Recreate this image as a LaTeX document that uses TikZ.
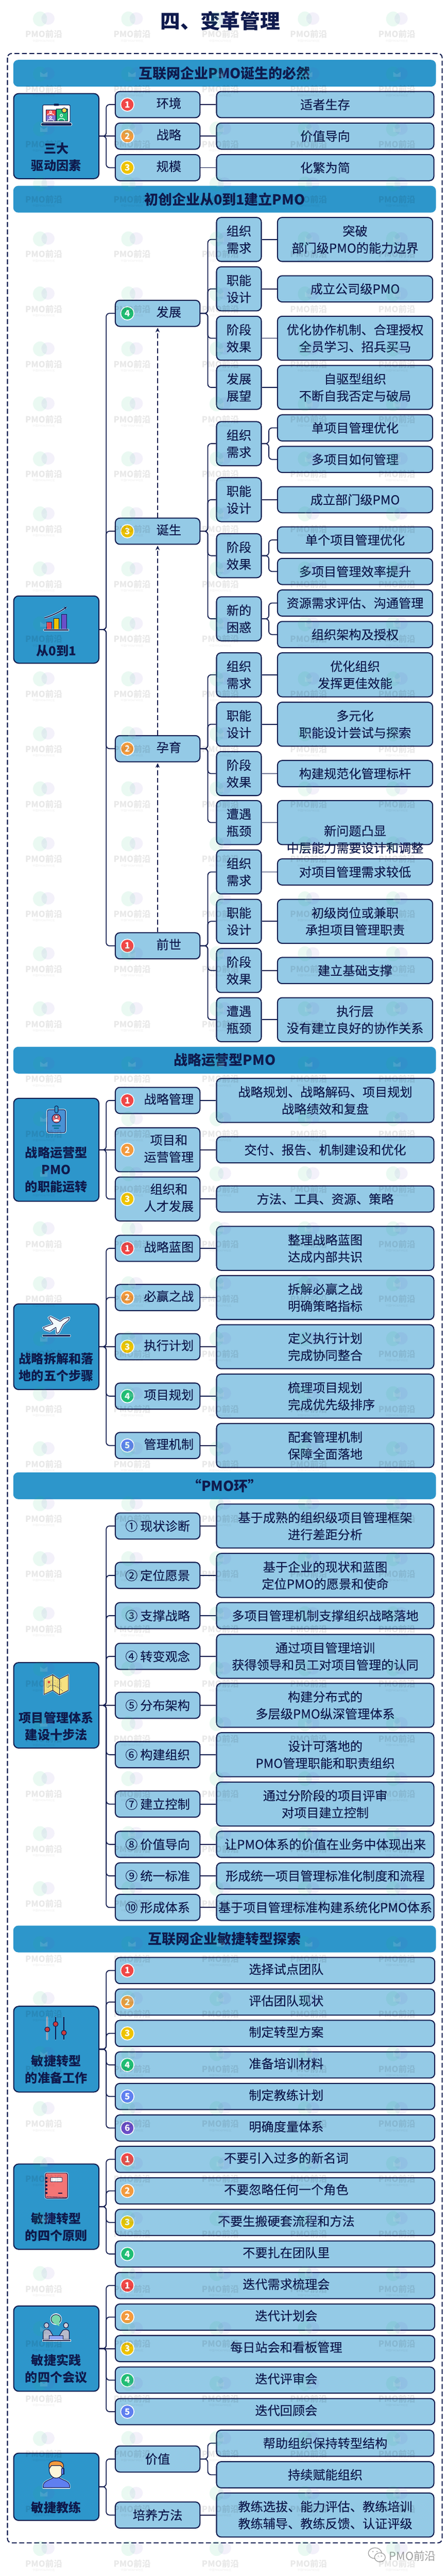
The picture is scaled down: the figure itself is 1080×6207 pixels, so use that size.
\documentclass[tikz,border=0pt]{standalone}
\usepackage{fontspec}
\usetikzlibrary{arrows.meta,calc}
\setmainfont{Noto Sans CJK SC}
\newfontfamily\medf[FakeBold=0.25]{Noto Sans CJK SC}
\definecolor{nav}{HTML}{0F1A4D}
\definecolor{lb}{HTML}{94CAE6}
\definecolor{hb}{HTML}{2D96CB}
\definecolor{cr}{HTML}{F04747}
\definecolor{co}{HTML}{F29A3E}
\definecolor{cy}{HTML}{EEC300}
\definecolor{cg}{HTML}{20BD74}
\definecolor{cb}{HTML}{5F7FF0}
\definecolor{cp}{HTML}{6A4FC8}
\newcommand\fsA{\fontsize{30}{41}\selectfont\medf}
\newcommand\fsH{\fontsize{33.5}{41}\selectfont\bfseries}
\newcommand\fsL{\fontsize{30}{41}\selectfont\bfseries}
\newcommand\off[1]{\hspace*{54pt}\begin{tabular}{@{}c@{}}#1\end{tabular}}
\tikzset{
 box/.style={draw=nav,line width=2.5,fill=lb,rounded corners=11,inner sep=0,align=center,font=\fsA,text=nav},
 sh/.style={minimum height=63},
 ta/.style={minimum height=106},
 hdr/.style={fill=hb,rounded corners=12,inner sep=0,minimum width=1019,minimum height=64.5,font=\fsH,text=nav},
 lbox/.style={draw=nav,line width=2.5,fill=hb,rounded corners=12,inner sep=0,minimum width=205.5},
 ltext/.style={inner sep=0,align=center,font=\fsL,text=nav},
 badge/.style={circle,draw=white,line width=2,minimum size=32,inner sep=0,text=white,font=\fontsize{21}{21}\selectfont\bfseries},
 conn/.style={draw=nav,line width=2.2},
 dasharrow/.style={draw=nav,line width=2,dash pattern=on 12 off 6,-{Stealth[length=11,width=10]},shorten >=2},
 ic/.style={draw=nav,line width=1.4},
 halo/.style={draw=white,line width=4,line join=round},
}
\newcommand\nM[4]{\node[box,#3,minimum width=204] (#1) at (380,#2) {#4};}
\newcommand\nA[4]{\node[box,#3,minimum width=524] (#1) at (784,#2) {#4};}
\newcommand\nN[3]{\node[box,ta,minimum width=108] (#1) at (576,#2) {#3};}
\newcommand\nB[4]{\node[box,#3,minimum width=374] (#1) at (856,#2) {#4};}
\newcommand\nW[3]{\node[box,sh,minimum width=770] (#1) at (663,#2) {\off{#3}};}
\newcommand\nL[3]{\node[lbox,minimum height=#3] (#1) at (135.7,#2) {};}
\newcommand\tL[3]{\node[ltext] (#1) at (135.7,#2) {#3};}
\newcommand\nH[3]{\node[hdr] (#1) at (541.5,#2) {#3};}
\newcommand\bdg[4]{\node[badge,fill=#2] (#1) at (307,#3) {#4};}
\newcommand\lnk[2]{\draw[conn] (#1.east) -- (#2.west);}
\newcommand\brn[3]{\draw[conn,rounded corners=8] (#1.east) -- (#1.east -| #2) -- (#3.west -| #2) -- (#3.west);}
\begin{document}
\begin{tikzpicture}[x=1pt,y=-1pt]
\useasboundingbox (0,0) rectangle (1080,6207);
\fill[white] (0,0) rectangle (1080,6207);
\coordinate (bus1) at (256,0);
\coordinate (bus2) at (501,0);
\coordinate (bus3) at (648,0);
\node[inner sep=0,text=nav,font=\fontsize{48}{48}\selectfont\bfseries] (title) at (531,50) {四、变革管理};
\draw[draw=nav,line width=2.5,dash pattern=on 12 off 6,rounded corners=10] (18,129) rectangle (1066,6127);
% ---------- section 1
\nH{h1}{176.5}{互联网企业PMO诞生的必然}
\nL{l1}{328}{205}\tL{l1t}{378}{三大\\驱动因素}
\nM{a1}{252}{sh}{\off{环境}}\bdg{a1b}{cr}{252}{1}
\nM{a2}{328}{sh}{\off{战略}}\bdg{a2b}{co}{328}{2}
\nM{a3}{404}{sh}{\off{规模}}\bdg{a3b}{cy}{404}{3}
\nA{ar1}{252}{sh}{适者生存}
\nA{ar2}{328}{sh}{价值导向}
\nA{ar3}{404}{sh}{化繁为简}
\lnk{l1}{a2}\brn{l1}{bus1}{a1}\brn{l1}{bus1}{a3}
\lnk{a1}{ar1}\lnk{a2}{ar2}\lnk{a3}{ar3}
% ---------- section 2
\nH{h2}{480}{初创企业从0到1建立PMO}
\nL{l2}{1517}{162}\tL{l2t}{1568}{从0到1}
\nM{g4}{755}{sh}{\off{发展}}\bdg{g4b}{cg}{755}{4}
\nM{g3}{1280}{sh}{\off{诞生}}\bdg{g3b}{cy}{1280}{3}
\nM{g2}{1804}{sh}{\off{孕育}}\bdg{g2b}{co}{1804}{2}
\nM{g1}{2279}{sh}{\off{前世}}\bdg{g1b}{cr}{2279}{1}
\brn{l2}{bus1}{g4}\brn{l2}{bus1}{g3}\brn{l2}{bus1}{g2}\brn{l2}{bus1}{g1}
\draw[dasharrow] (g1.north) -- (g2.south);
\draw[dasharrow] (g2.north) -- (g3.south);
\draw[dasharrow] (g3.north) -- (g4.south);
% develop
\nN{n41}{577}{组织\\需求}\nB{b41}{577}{ta}{突破\\部门级PMO的能力边界}
\nN{n42}{696}{职能\\设计}\nB{b42}{696}{sh}{成立公司级PMO}
\nN{n43}{815}{阶段\\效果}\nB{b43}{815}{ta}{优化协作机制、合理授权\\全员学习、招兵买马}
\nN{n44}{933.5}{发展\\展望}\nB{b44}{933.5}{ta}{自驱型组织\\不断自我否定与破局}
\brn{g4}{bus2}{n41}\brn{g4}{bus2}{n42}\brn{g4}{bus2}{n43}\brn{g4}{bus2}{n44}
\lnk{n41}{b41}\lnk{n42}{b42}\lnk{n43}{b43}\lnk{n44}{b44}
% born
\nN{n31}{1069}{组织\\需求}
\nB{b31a}{1031}{sh}{单项目管理优化}\nB{b31b}{1107}{sh}{多项目如何管理}
\nN{n32}{1204}{职能\\设计}\nB{b32}{1204}{sh}{成立部门级PMO}
\nN{n33}{1339}{阶段\\效果}
\nB{b33a}{1301}{sh}{单个项目管理优化}\nB{b33b}{1377}{sh}{多项目管理效率提升}
\nN{n34}{1491}{新的\\困惑}
\nB{b34a}{1453}{sh}{资源需求评估、沟通管理}\nB{b34b}{1529}{sh}{组织架构及授权}
\brn{g3}{bus2}{n31}\brn{g3}{bus2}{n32}\brn{g3}{bus2}{n33}\brn{g3}{bus2}{n34}
\brn{n31}{bus3}{b31a}\brn{n31}{bus3}{b31b}\lnk{n32}{b32}
\brn{n33}{bus3}{b33a}\brn{n33}{bus3}{b33b}
\brn{n34}{bus3}{b34a}\brn{n34}{bus3}{b34b}
% pregnant
\nN{n21}{1626}{组织\\需求}\nB{b21}{1626}{ta}{优化组织\\发挥更佳效能}
\nN{n22}{1745}{职能\\设计}\nB{b22}{1745}{ta}{多元化\\职能设计尝试与探索}
\nN{n23}{1864}{阶段\\效果}\nB{b23}{1864}{sh}{构建规范化管理标杆}
\nN{n24}{1982}{遭遇\\瓶颈}\nB{b24}{1982}{ta}{}
\node[inner sep=0,align=center,font=\fsA,text=nav] (b24t) at (856,2022.5) {新问题凸显\\中层能力需要设计和调整};
\brn{g2}{bus2}{n21}\brn{g2}{bus2}{n22}\brn{g2}{bus2}{n23}\brn{g2}{bus2}{n24}
\lnk{n21}{b21}\lnk{n22}{b22}\lnk{n23}{b23}\lnk{n24}{b24}
% previous
\nN{n11}{2101}{组织\\需求}\nB{b11}{2101}{sh}{对项目管理需求较低}
\nN{n12}{2220}{职能\\设计}\nB{b12}{2220}{ta}{初级岗位或兼职\\承担项目管理职责}
\nN{n13}{2338.5}{阶段\\效果}\nB{b13}{2338.5}{sh}{建立基础支撑}
\nN{n14}{2457}{遭遇\\瓶颈}\nB{b14}{2457}{ta}{执行层\\没有建立良好的协作关系}
\brn{g1}{bus2}{n11}\brn{g1}{bus2}{n12}\brn{g1}{bus2}{n13}\brn{g1}{bus2}{n14}
\lnk{n11}{b11}\lnk{n12}{b12}\lnk{n13}{b13}\lnk{n14}{b14}
% ---------- section 3
\nH{h3}{2554.5}{战略运营型PMO}
\nL{l3}{2770.5}{248}\tL{l3t}{2818}{战略运营型\\PMO\\的职能运转}
\nM{c1}{2651.5}{sh}{\off{战略管理}}\bdg{c1b}{cr}{2651.5}{1}
\nM{c2}{2770.5}{ta}{\off{项目和\\运营管理}}\bdg{c2b}{co}{2770.5}{2}
\nM{c3}{2889}{ta}{\off{组织和\\人才发展}}\bdg{c3b}{cy}{2889}{3}
\nA{cr1}{2651.5}{ta}{战略规划、战略解码、项目规划\\战略绩效和复盘}
\nA{cr2}{2770.5}{sh}{交付、报告、机制建设和优化}
\nA{cr3}{2889}{sh}{方法、工具、资源、策略}
\lnk{l3}{c2}\brn{l3}{bus1}{c1}\brn{l3}{bus1}{c3}
\lnk{c1}{cr1}\lnk{c2}{cr2}\lnk{c3}{cr3}
\nL{l4}{3245}{206.5}\tL{l4t}{3294}{战略拆解和落\\地的五个步骤}
\nM{d1}{3008}{sh}{\off{战略蓝图}}\bdg{d1b}{cr}{3008}{1}
\nM{d2}{3126.5}{sh}{\off{必赢之战}}\bdg{d2b}{co}{3126.5}{2}
\nM{d3}{3245}{sh}{\off{执行计划}}\bdg{d3b}{cy}{3245}{3}
\nM{d4}{3364}{sh}{\off{项目规划}}\bdg{d4b}{cg}{3364}{4}
\nM{d5}{3483}{sh}{\off{管理机制}}\bdg{d5b}{cb}{3483}{5}
\nA{dr1}{3008}{ta}{整理战略蓝图\\达成内部共识}
\nA{dr2}{3126.5}{ta}{拆解必赢之战\\明确策略指标}
\nA{dr3}{3245}{ta}{定义执行计划\\完成协同整合}
\nA{dr4}{3364}{ta}{梳理项目规划\\\makebox[180pt][l]{完成优先级排序}}
\nA{dr5}{3483}{ta}{配套管理机制\\保障全面落地}
\lnk{l4}{d3}\brn{l4}{bus1}{d1}\brn{l4}{bus1}{d2}\brn{l4}{bus1}{d4}\brn{l4}{bus1}{d5}
\lnk{d1}{dr1}\lnk{d2}{dr2}\lnk{d3}{dr3}\lnk{d4}{dr4}\lnk{d5}{dr5}
% ---------- section PMO ring
\nH{h4}{3580}{\hspace*{-14pt}“PMO环”\hspace*{-14pt}}
\nL{l5}{4109}{206}\tL{l5t}{4159}{项目管理体系\\建设十步法}
\nM{e1}{3677}{sh}{①\hspace{6pt}现状诊断}
\nM{e2}{3796}{sh}{②\hspace{6pt}定位愿景}
\nM{e3}{3893}{sh}{③\hspace{6pt}支撑战略}
\nM{e4}{3991}{sh}{④\hspace{6pt}转变观念}
\nM{e5}{4109}{sh}{⑤\hspace{6pt}分布架构}
\nM{e6}{4228}{sh}{⑥\hspace{6pt}构建组织}
\nM{e7}{4347}{sh}{⑦\hspace{6pt}建立控制}
\nM{e8}{4444}{sh}{⑧\hspace{6pt}价值导向}
\nM{e9}{4520}{sh}{⑨\hspace{6pt}统一标准}
\nM{e10}{4596}{sh}{⑩\hspace{6pt}形成体系}
\nA{er1}{3677}{ta}{基于成熟的组织级项目管理框架\\进行差距分析}
\nA{er2}{3796}{ta}{基于企业的现状和蓝图\\定位PMO的愿景和使命}
\nA{er3}{3893}{sh}{多项目管理机制支撑组织战略落地}
\nA{er4}{3991}{ta}{通过项目管理培训\\获得领导和员工对项目管理的认同}
\nA{er5}{4109}{ta}{构建分布式的\\多层级PMO纵深管理体系}
\nA{er6}{4228}{ta}{设计可落地的\\PMO管理职能和职责组织}
\nA{er7}{4347}{ta}{通过分阶段的项目评审\\对项目建立控制}
\nA{er8}{4444}{sh}{让PMO体系的价值在业务中体现出来}
\nA{er9}{4520}{sh}{形成统一项目管理标准化制度和流程}
\nA{er10}{4596}{sh}{基于项目管理标准构建系统化PMO体系}
\lnk{l5}{e5}
\brn{l5}{bus1}{e1}\brn{l5}{bus1}{e2}\brn{l5}{bus1}{e3}\brn{l5}{bus1}{e4}
\brn{l5}{bus1}{e6}\brn{l5}{bus1}{e7}\brn{l5}{bus1}{e8}\brn{l5}{bus1}{e9}\brn{l5}{bus1}{e10}
\lnk{e1}{er1}\lnk{e2}{er2}\lnk{e3}{er3}\lnk{e4}{er4}\lnk{e5}{er5}
\lnk{e6}{er6}\lnk{e7}{er7}\lnk{e8}{er8}\lnk{e9}{er9}\lnk{e10}{er10}
% ---------- section agile
\nH{h5}{4672}{互联网企业敏捷转型探索}
\nL{l6}{4937.5}{206.5}\tL{l6t}{4987}{敏捷转型\\的准备工作}
\nW{f1}{4748}{选择试点团队}\bdg{f1b}{cr}{4748}{1}
\nW{f2}{4824}{评估团队现状}\bdg{f2b}{co}{4824}{2}
\nW{f3}{4899.5}{制定转型方案}\bdg{f3b}{cy}{4899.5}{3}
\nW{f4}{4975.5}{准备培训材料}\bdg{f4b}{cg}{4975.5}{4}
\nW{f5}{5051.5}{制定教练计划}\bdg{f5b}{cb}{5051.5}{5}
\nW{f6}{5127.5}{明确度量体系}\bdg{f6b}{cp}{5127.5}{6}
\brn{l6}{bus1}{f1}\brn{l6}{bus1}{f2}\brn{l6}{bus1}{f3}\brn{l6}{bus1}{f4}\brn{l6}{bus1}{f5}\brn{l6}{bus1}{f6}
\nL{l7}{5317}{205.5}\tL{l7t}{5366}{敏捷转型\\的四个原则}
\nW{p1}{5203}{不要引入过多的新名词}\bdg{p1b}{cr}{5203}{1}
\nW{p2}{5279}{不要忽略任何一个角色}\bdg{p2b}{co}{5279}{2}
\nW{p3}{5355}{不要生搬硬套流程和方法}\bdg{p3b}{cy}{5355}{3}
\nW{p4}{5431}{不要扎在团队里}\bdg{p4b}{cg}{5431}{4}
\brn{l7}{bus1}{p1}\brn{l7}{bus1}{p2}\brn{l7}{bus1}{p3}\brn{l7}{bus1}{p4}
\nL{l8}{5659}{205.5}\tL{l8t}{5708}{敏捷实践\\的四个会议}
\nW{q1}{5507}{迭代需求梳理会}\bdg{q1b}{cr}{5507}{1}
\nW{q2}{5583}{迭代计划会}\bdg{q2b}{co}{5583}{2}
\nW{q3}{5659}{每日站会和看板管理}\bdg{q3b}{cy}{5659}{3}
\nW{q4}{5735}{迭代评审会}\bdg{q4b}{cg}{5735}{4}
\nW{q5}{5811}{迭代回顾会}\bdg{q5b}{cb}{5811}{5}
\lnk{l8}{q3}\brn{l8}{bus1}{q1}\brn{l8}{bus1}{q2}\brn{l8}{bus1}{q4}\brn{l8}{bus1}{q5}
\nL{l9}{5992}{162}\tL{l9t}{6042}{敏捷教练}
\nM{r1}{5925}{sh}{价值}
\nM{r2}{6060}{sh}{培养方法}
\nA{rr1}{5887}{sh}{帮助组织保持转型结构}
\nA{rr2}{5963}{sh}{持续赋能组织}
\nA{rr3}{6060}{ta}{教练选拔、能力评估、教练培训\\教练辅导、教练反馈、认证评级}
\brn{l9}{bus1}{r1}\brn{l9}{bus1}{r2}
\brn{r1}{bus2}{rr1}\brn{r1}{bus2}{rr2}\lnk{r2}{rr3}
% ---------- icons
% conference laptop
\draw[ic,fill=white,rounded corners=2] (103,253) rectangle (169,295);
\fill[cr] (111,265) rectangle (135,277.5);
\fill[cp!80!white] (111,278.5) rectangle (135,291);
\fill[cg] (136,263) rectangle (163,291);
\draw[ic] (111,265) rectangle (135,291) (136,263) rectangle (163,291);
\draw[white,line width=1.5] (122,270) circle (2.5) (114,277) arc (180:360:8 and 3);
\draw[white,line width=1.5] (122,283) circle (2.5) (114,291) arc (180:360:8 and 3);
\draw[white,line width=1.5] (148,278) circle (3) (140,291) arc (180:360:8 and 6);
\draw[ic,fill=cy!70!white] (155,266) circle (6);
\fill[nav,rounded corners=1] (130,250) rectangle (142,255);
\draw[white,line width=1,fill=nav,rounded corners=2] (99,296) rectangle (173,303);
% chart
\draw[ic,fill=cr] (112,1499) rectangle (125,1516);
\draw[ic,fill=cy] (129.5,1490) rectangle (142,1516);
\draw[ic,fill=cp] (148,1480) rectangle (161,1516);
\draw[white,line width=1,fill=nav,rounded corners=1] (105,1516) rectangle (166,1520);
\draw[halo] (107,1489) .. controls (130,1482) and (148,1472) .. (160,1463);
\draw[nav,line width=2.2,-{Stealth[length=7,width=7]}] (107,1489) .. controls (130,1482) and (148,1472) .. (161,1462);
% id badge
\draw[white,line width=4,rounded corners=4] (114,2674) rectangle (158,2729);
\draw[ic,fill=cyan!60!blue!75!white,rounded corners=4] (114,2674) rectangle (158,2729);
\draw[ic,fill=hb,rounded corners=3] (132,2665) rectangle (140,2681);
\draw[ic,fill=cr!80!white] (136,2695) circle (10.5);
\draw[white,fill=white] (129,2702) arc (180:360:7 and 5);
\draw[nav,line width=1,fill=white!80!cr] (136,2691) circle (4);
\fill[nav!60!cyan] (126,2711) rectangle (146,2714) (130,2717) rectangle (142,2720);
% plane
\draw[halo] (167,3174)--(166,3180)--(152,3192)--(142,3211)--(136,3213)--(135,3198)--(120,3208)--(108,3204)--(104,3199)--(128,3190)--(117,3175)--(122,3172)--(145,3184)--(155,3177)--cycle;
\draw[ic,fill=white!90!lb,rounded corners=1] (167,3174)--(166,3180)--(152,3192)--(142,3211)--(136,3213)--(135,3198)--(120,3208)--(108,3204)--(104,3199)--(128,3190)--(117,3175)--(122,3172)--(145,3184)--(155,3177)--cycle;
\draw[white,line width=1,fill=nav,rounded corners=1] (102,3216) rectangle (170,3221);
% map
\draw[white,line width=3,line join=round] (106,4045)--(127,4035)--(143,4046)--(165,4035)--(165,4073)--(143,4084)--(127,4073)--(106,4083)--cycle;
\draw[ic,fill=cy!50!white,line join=round] (106,4045)--(127,4035)--(143,4046)--(165,4035)--(165,4073)--(143,4084)--(127,4073)--(106,4083)--cycle;
\draw[nav,line width=.8] (127,4035)--(127,4073) (143,4046)--(143,4084);
\draw[nav,line width=1,dash pattern=on 2 off 2] (115,4066) .. controls (125,4055) and (135,4062) .. (152,4075);
\fill[cr] (118,4053) circle (3);
% sliders
\foreach \xx/\yy in {114/4890,134/4877,154/4898}{
 \draw[white,line width=3.4,line cap=round] (\xx,4860) -- (\xx,4914);
 \draw[nav,line width=1.6,line cap=round] (\xx,4860) -- (\xx,4914);
 \draw[ic,fill=cr!85!black] (\xx,\yy) circle (6);
}
% notebook
\draw[white,line width=3.5,rounded corners=4] (109,5236) rectangle (163,5297);
\draw[ic,fill=cr!75!white,rounded corners=4] (109,5236) rectangle (163,5297);
\draw[nav,line width=1] (112,5293) -- (160,5295);
\draw[nav,line width=1,fill=white,rounded corners=1] (122,5247) rectangle (150,5257);
\foreach \yy in {5248,5257,5266,5275,5284}{\fill[nav] (112,\yy) circle (2.6);}
\fill[nav] (140,5283) rectangle (150,5286);
% meeting
\draw[white,line width=3,fill=white] (135,5588) circle (12.5);
\draw[ic,fill=cg!60!white] (135,5588) ellipse (12 and 11);
\fill[cg!60!white] (128,5597) -- (143,5605) -- (143,5594) -- cycle;
\draw[ic,fill=white!80!nav] (112,5603) ellipse (6 and 6.5);
\draw[ic,fill=white!80!nav] (159,5603) ellipse (6 and 6.5);
\draw[ic,fill=white!70!nav] (104,5637) -- (104,5620) .. controls (104,5612) and (118,5610) .. (122,5618) -- (128,5628) -- (128,5637) -- cycle;
\draw[ic,fill=white!70!nav] (167,5637) -- (167,5620) .. controls (167,5612) and (153,5610) .. (149,5618) -- (143,5628) -- (143,5637) -- cycle;
\draw[ic,fill=cb!70!white] (119,5628) rectangle (152,5638);
\draw[white,line width=.8,fill=nav] (102,5637) rectangle (171,5641);
% coach
\draw[white,line width=3.2,line join=round] (104,5995) -- (104,5990) .. controls (104,5978) and (120,5976) .. (128,5970) -- (143,5970) .. controls (150,5976) and (168,5978) .. (168,5990) -- (168,5995) -- cycle;
\draw[ic,fill=cb] (104,5994) -- (104,5990) .. controls (104,5978) and (120,5976) .. (128,5970) -- (143,5970) .. controls (150,5976) and (168,5978) .. (168,5990) -- (168,5994) -- cycle;
\draw[ic,fill=white!85!cy] (135.5,5951) ellipse (17 and 20);
\draw[ic,fill=co] (119,5948) .. controls (113,5930) and (130,5929) .. (138,5930) .. controls (150,5930) and (156,5938) .. (152,5948) -- (146,5941) -- (124,5941) -- cycle;
\draw[ic,fill=cb] (148,5948) rectangle (154,5962);
% ---------- corner mark
\begin{scope}[opacity=.85]
\draw[gray,line width=1.4,fill=white] (904,6152) ellipse (16 and 13);
\fill[gray] (899,6148) circle (1.5) (909,6148) circle (1.5);
\draw[gray,line width=1.4,fill=white] (916,6162) ellipse (13 and 11);
\fill[gray] (912,6159) circle (1.3) (920,6159) circle (1.3);
\node[inner sep=0,text=gray!90,font=\fontsize{27}{27}\selectfont] (wx) at (994.5,6159) {PMO前沿};
\end{scope}
% ---------- watermark
\foreach \kk in {0,...,46}{
 \pgfmathsetmacro\yw{82.7+132.5*\kk}
 \foreach \xw in {105.6,318.4,531.2,744,956.8}{
  \fill[cg,opacity=.09] (\xw-9,\yw-37) ellipse (17 and 18);
  \fill[cp,opacity=.08] (\xw+10,\yw-38) ellipse (16 and 15);
  \fill[white,opacity=.12] (\xw-9,\yw-42) -- (\xw,\yw-36) -- (\xw+9,\yw-42) -- (\xw+9,\yw-30) -- (\xw-9,\yw-30) -- cycle;
  \node[inner sep=0,opacity=.09,text=black,font=\fontsize{20.5}{20.5}\selectfont\bfseries] (wa) at (\xw,\yw) {PMO前沿};
  \node[inner sep=0,opacity=.07,text=black,font=\fontsize{6.5}{6.5}\selectfont] (wb) at (\xw,\yw+15.5) {中国PMO\&PM社区};
 }
}
\end{tikzpicture}
\end{document}
